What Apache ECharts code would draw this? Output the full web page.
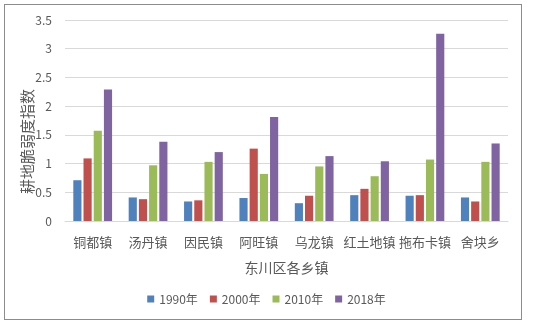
<!DOCTYPE html>
<html>
<head>
<meta charset="utf-8">
<script src="https://cdn.jsdelivr.net/npm/echarts@6/dist/echarts.min.js"></script>
<style>
  html, body { margin: 0; padding: 0; background: #fff; }
  #frame { position: absolute; left: 4px; top: 4px; width: 516px; height: 314px; border: 1px solid #8c8c8c; }
  #chart { position: absolute; left: 0; top: 0; width: 533px; height: 323px; }
</style>
</head>
<body>
<div id="frame"></div>
<div id="chart"></div>
<script>
// 乡镇
const towns = ['铜都镇', '汤丹镇', '因民镇', '阿旺镇', '乌龙镇', '红土地镇', '拖布卡镇', '舍块乡'];
const years = ['1990年', '2000年', '2010年', '2018年'];
// 各年份耕地脆弱度指数
const v1990 = [0.71, 0.41, 0.34, 0.40, 0.31, 0.45, 0.44, 0.41];
const v2000 = [1.09, 0.38, 0.36, 1.26, 0.44, 0.56, 0.45, 0.34];
const v2010 = [1.57, 0.97, 1.03, 0.82, 0.95, 0.78, 1.07, 1.03];
const v2018 = [2.29, 1.38, 1.20, 1.81, 1.13, 1.04, 3.26, 1.35];
const colors = ['#4F81BD', '#C0504D', '#9BBB59', '#8064A2'];

const txt = '#595959';
const font = '"Noto Sans CJK SC", "Liberation Sans", sans-serif';
const chart = echarts.init(document.getElementById('chart'), null, { renderer: 'canvas' });

const series = [v1990, v2000, v2010, v2018].map((d, i) => ({
  name: years[i],
  type: 'bar',
  data: d,
  barGap: '25%',
  barCategoryGap: '30%',
  itemStyle: { color: colors[i] }
}));

chart.setOption({
  animation: false,
  textStyle: { fontFamily: font },
  grid: { left: 65, right: 25, top: 20, bottom: 102 },
  legend: {
    bottom: 13,
    left: 'center',
    itemWidth: 7,
    itemHeight: 7,
    itemGap: 12,
    icon: 'rect',
    textStyle: { color: txt, fontSize: 12, fontFamily: font },
    data: years
  },
  xAxis: {
    type: 'category',
    data: towns,
    name: '东川区各乡镇',
    nameLocation: 'middle',
    nameGap: 40,
    nameTextStyle: { color: txt, fontSize: 14, fontFamily: font },
    axisLine: { lineStyle: { color: '#D9D9D9', width: 1 } },
    axisTick: { show: false },
    axisLabel: { color: txt, fontSize: 13, margin: 15, interval: 0 }
  },
  yAxis: {
    type: 'value',
    min: 0,
    max: 3.5,
    interval: 0.5,
    name: '耕地脆弱度指数',
    nameLocation: 'middle',
    nameGap: 30,
    nameMoveOverlap: false,
    nameTextStyle: { color: txt, fontSize: 15, fontFamily: font, padding: [0, 42, 0, 0] },
    axisLine: { show: false },
    axisTick: { show: false },
    axisLabel: { color: txt, fontSize: 12, margin: 13 },
    splitLine: { lineStyle: { color: '#D9D9D9', width: 1 } }
  },
  series
});
</script>
</body>
</html>
